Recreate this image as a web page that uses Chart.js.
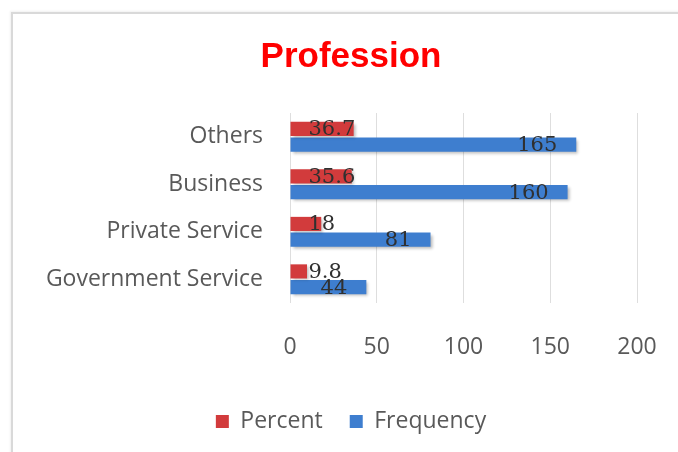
<!DOCTYPE html>
<html>
<head>
<meta charset="utf-8">
<script src="https://cdn.jsdelivr.net/npm/chart.js@4/dist/chart.umd.min.js"></script>
<style>
  html, body { margin: 0; padding: 0; background: #ffffff; }
  #wrap { position: relative; width: 678px; height: 452px; overflow: hidden; }
  #frame {
    position: absolute; left: 11px; top: 12px; width: 700px; height: 480px;
    border-top: 2px solid #d9d9d9; border-left: 2px solid #d9d9d9;
    box-shadow: -1px -1px 2px rgba(0,0,0,0.06);
  }
  canvas { position: absolute; left: 0; top: 0; }
</style>
</head>
<body>
<div id="wrap">
  <div id="frame"></div>
  <canvas id="chart" width="678" height="452"></canvas>
</div>
<script>
// Profession breakdown: frequency and percent per group
const categories = ['Others', 'Business', 'Private Service', 'Government Service'];
const percentValues = [36.7, 35.6, 18, 9.8];
const frequencyValues = [165, 160, 81, 44];
const xTicks = [0, 50, 100, 150, 200];

const labelGray = '#595959';

// Soft drop shadow under the bars
const barShadow = {
  id: 'barShadow',
  beforeDatasetsDraw(chart) {
    const ctx = chart.ctx;
    ctx.save();
    ctx.shadowColor = 'rgba(0,0,0,0.28)';
    ctx.shadowBlur = 3;
    ctx.shadowOffsetX = 2;
    ctx.shadowOffsetY = 2;
  },
  afterDatasetsDraw(chart) {
    chart.ctx.restore();
  }
};

// Value labels near the end of each bar
const valueLabels = {
  id: 'valueLabels',
  afterDatasetsDraw(chart, args, opts) {
    const ctx = chart.ctx;
    ctx.save();
    ctx.font = opts.font;
    ctx.fillStyle = opts.color;
    ctx.textAlign = 'right';
    ctx.textBaseline = 'middle';
    chart.data.datasets.forEach((ds, di) => {
      const meta = chart.getDatasetMeta(di);
      const inset = opts.insets[di];
      meta.data.forEach((bar, i) => {
        const text = String(ds.data[i]);
        const w = ctx.measureText(text).width;
        const right = Math.max(bar.x - inset, bar.base + opts.minStart + w);
        ctx.fillText(text, right, bar.y + 1);
      });
    });
    ctx.restore();
  }
};

new Chart(document.getElementById('chart'), {
  type: 'bar',
  data: {
    labels: categories,
    datasets: [
      {
        label: 'Percent',
        data: percentValues,
        backgroundColor: '#d23b3c',
        categoryPercentage: 0.66,
        barPercentage: 0.9
      },
      {
        label: 'Frequency',
        data: frequencyValues,
        backgroundColor: '#3e7ecf',
        categoryPercentage: 0.66,
        barPercentage: 0.9
      }
    ]
  },
  options: {
    indexAxis: 'y',
    responsive: false,
    animation: false,
    layout: { padding: { left: 24, right: 0, top: 0, bottom: 9 } },
    scales: {
      x: {
        min: 0,
        max: 200,
        afterBuildTicks(axis) { axis.ticks = xTicks.map(v => ({ value: v })); },
        afterFit(axis) {
          axis.height = 80;
          axis.paddingLeft = 0;
          axis.paddingRight = 0;
        },
        grid: { color: '#dedede', lineWidth: 1, drawTicks: false },
        border: { display: false },
        ticks: {
          padding: 31,
          color: labelGray,
          font: { family: 'Open Sans', size: 23 }
        }
      },
      y: {
        afterFit(axis) { axis.width = 266; },
        grid: { display: false, drawTicks: false },
        border: { display: false },
        ticks: {
          padding: 27,
          color: labelGray,
          font: { family: 'Open Sans', size: 23 }
        }
      },
      // empty margin on the right of the plot
      yRight: {
        type: 'category',
        position: 'right',
        afterFit(axis) { axis.width = 41; },
        grid: { display: false, drawTicks: false },
        border: { display: false },
        ticks: { display: false }
      }
    },
    plugins: {
      title: {
        display: true,
        text: 'Profession',
        color: '#ff0000',
        font: { family: 'Liberation Sans', size: 35, weight: 'bold' },
        padding: { top: 36, bottom: 35 }
      },
      legend: {
        position: 'bottom',
        labels: {
          boxWidth: 13,
          boxHeight: 13,
          padding: 27,
          color: labelGray,
          font: { family: 'Open Sans', size: 23 }
        }
      },
      tooltip: { enabled: false },
      valueLabels: {
        font: '21px "DejaVu Serif"',
        color: '#303030',
        insets: [1, 19],
        minStart: 18
      }
    }
  },
  plugins: [barShadow, valueLabels]
});
</script>
</body>
</html>
